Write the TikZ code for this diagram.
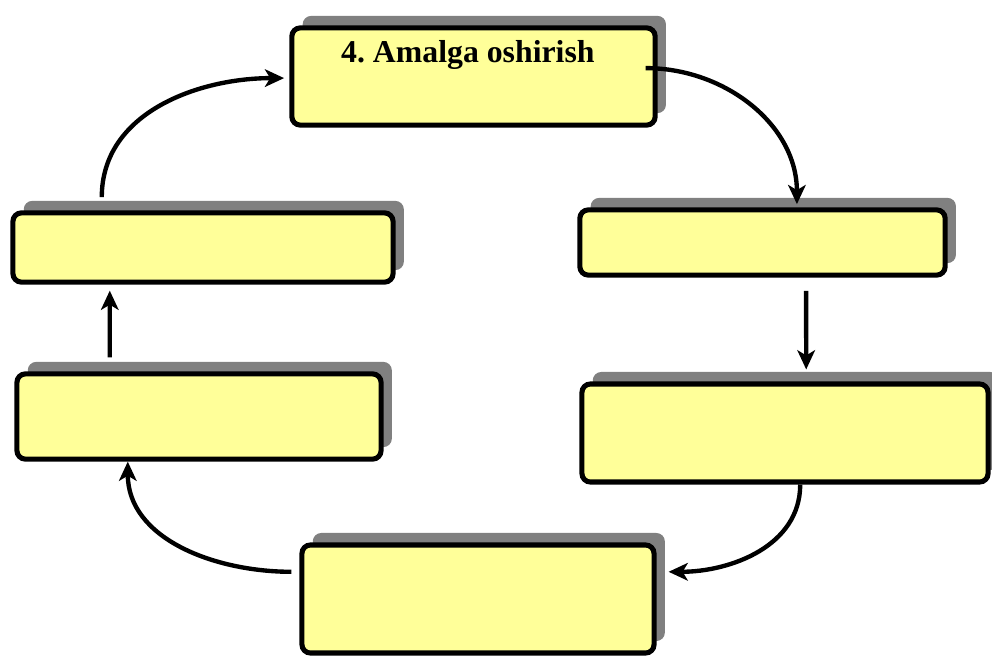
\documentclass[tikz,border=0pt]{standalone}
\usepackage{fontspec}
\setmainfont{Liberation Serif}
\usetikzlibrary{positioning,shadows,arrows.meta}
\definecolor{stagefill}{HTML}{FFFF99}

\begin{document}
\begin{tikzpicture}
  [x=0.025cm, y=-0.025cm,
   stage/.style={draw=black, line width=3.6pt, fill=stagefill, rounded corners=6pt, inner sep=0pt,
     drop shadow={shadow xshift=0.27cm, shadow yshift=0.3cm, fill=black!50, opacity=1}},
   flow/.style={line width=3.1pt, -{Stealth[length=0.48cm, width=0.44cm, inset=0.13cm]}}]
  \useasboundingbox (0,0) rectangle (992,657);
  \node[stage, minimum width=9.08cm, minimum height=2.43cm,
    label={[anchor=base, xshift=-0.14cm, yshift=-0.93cm, font=\bfseries\fontsize{22.6}{27}\selectfont]north:4.\ Amalga oshirish}]
    (amalga) at (473.5,76.5) {};
  \node[stage, minimum width=9.13cm, minimum height=1.63cm] (right1) at (762.5,242.5) {};
  \node[stage, minimum width=10.15cm, minimum height=2.45cm] (right2) at (785,433) {};
  \node[stage, minimum width=8.8cm, minimum height=2.7cm] (bottom) at (478,599) {};
  \node[stage, minimum width=9.1cm, minimum height=2.13cm] (left2) at (199,416.5) {};
  \node[stage, minimum width=9.5cm, minimum height=1.73cm] (left1) at (203,247.5) {};
  \draw[flow] ([xshift=-0.3cm,yshift=0.21cm]amalga.east) to[out=0,in=90] ([xshift=0.86cm,yshift=0.08cm]right1.north);
  \draw[flow] ([xshift=1.09cm,yshift=-0.33cm]right1.south) -- ([xshift=0.53cm,yshift=0.3cm]right2.north);
  \draw[flow] ([xshift=0.38cm]right2.south) to[out=-90,in=0] ([xshift=0.3cm,yshift=0.68cm]bottom.east);
  \draw[flow] ([xshift=-0.2cm,yshift=0.68cm]bottom.west) to[out=180,in=-90] ([xshift=-1.78cm]left2.south);
  \draw[flow] ([xshift=-2.23cm,yshift=0.35cm]left2.north) -- ([xshift=-2.33cm,yshift=-0.15cm]left1.south);
  \draw[flow] ([xshift=-2.53cm,yshift=0.33cm]left1.north) to[out=90,in=180] ([xshift=-0.13cm,yshift=-0.04cm]amalga.west);
\end{tikzpicture}
\end{document}
